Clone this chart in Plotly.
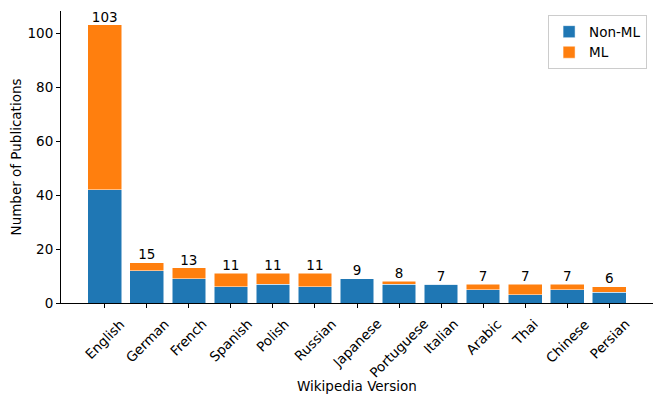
import plotly.graph_objects as go

# Publications per Wikipedia language edition
languages = ["English", "German", "French", "Spanish", "Polish", "Russian", "Japanese",
             "Portuguese", "Italian", "Arabic", "Thai", "Chinese", "Persian"]
non_ml = [42, 12, 9, 6, 7, 6, 9, 7, 7, 5, 3, 5, 4]
ml = [61, 3, 4, 5, 4, 5, 0, 1, 0, 2, 4, 2, 2]
totals = [a + b for a, b in zip(non_ml, ml)]

font = "DejaVu Sans"

fig = go.Figure()
fig.add_trace(go.Bar(x=languages, y=non_ml, name="Non-ML",
                     marker=dict(color="#1f77b4", line=dict(color="white", width=0.5))))
fig.add_trace(go.Bar(x=languages, y=ml, name="ML",
                     marker=dict(color="#ff7f0e", line=dict(color="white", width=0.5))))
fig.add_trace(go.Scatter(x=languages, y=totals, mode="text", text=[str(t) for t in totals],
                         textposition="top center", textfont=dict(size=13.5, color="black"),
                         showlegend=False, hoverinfo="skip", cliponaxis=False))

# rotated tick labels centred on their ticks (matplotlib style)
for lang in languages:
    fig.add_annotation(x=lang, xref="x", y=0, yref="paper", yshift=-10,
                       text=lang, textangle=-45, showarrow=False,
                       xanchor="center", yanchor="top", font=dict(size=13.5))

fig.add_annotation(x=0.5, xref="paper", y=0, yref="paper", yshift=-73,
                   text="Wikipedia Version", showarrow=False,
                   xanchor="center", yanchor="top", font=dict(size=13.5))

fig.update_layout(
    barmode="stack",
    bargap=0.2,
    width=664, height=403,
    # page has an 8px body offset, so margins are shifted accordingly
    margin=dict(l=53, r=19, t=3, b=108),
    plot_bgcolor="white", paper_bgcolor="white",
    font=dict(family=font, size=13, color="black"),
    legend=dict(x=0.99, y=0.985, xanchor="right", yanchor="top",
                bordercolor="#cccccc", borderwidth=1, bgcolor="white",
                font=dict(size=13.5), traceorder="normal"),
)
fig.update_xaxes(
    range=[-1.04, 13.04],
    showline=True, linecolor="black", linewidth=1,
    ticks="outside", ticklen=4, tickcolor="black",
    showticklabels=False, showgrid=False, automargin=False,
)
fig.update_yaxes(
    range=[0, 108.15],
    showline=True, linecolor="black", linewidth=1,
    ticks="outside", ticklen=4, tickcolor="black",
    tickvals=[0, 20, 40, 60, 80, 100], showgrid=False, zeroline=False, automargin=False,
    tickfont=dict(size=13.5),
    title=dict(text="Number of Publications", font=dict(size=13.5), standoff=8),
)

fig.write_html("out.html")
